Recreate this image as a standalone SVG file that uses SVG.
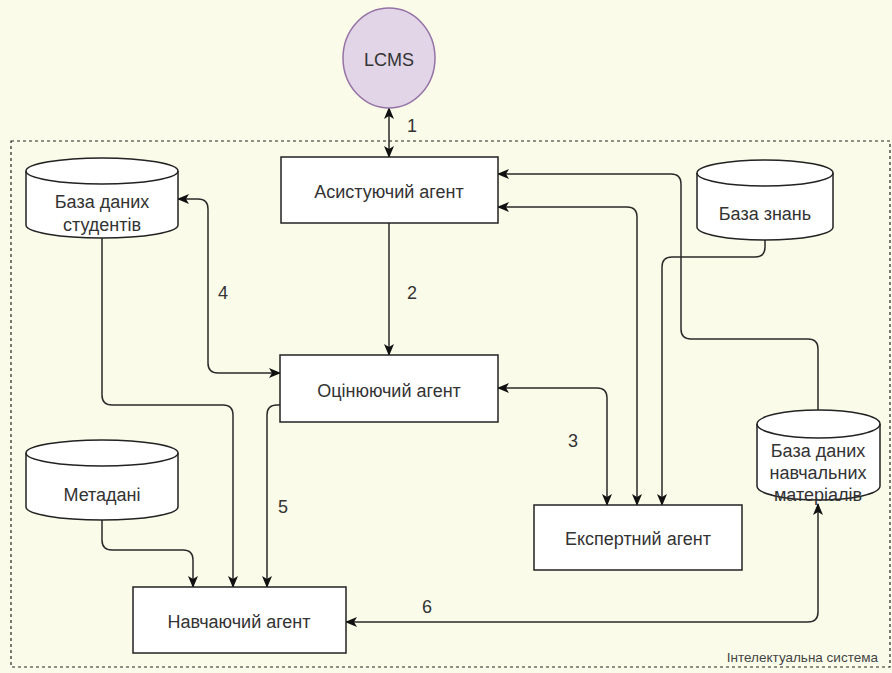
<svg xmlns="http://www.w3.org/2000/svg" width="892" height="673" viewBox="0 0 892 673">
  <style>
    .bg { fill: #fafce9; }
    .frame { fill: none; stroke: #222; stroke-width: 1.2; stroke-dasharray: 3 3; }
    .box { fill: #ffffff; stroke: #222; stroke-width: 1.5; }
    .db { fill: #ffffff; stroke: #222; stroke-width: 1.5; }
    .dbline { fill: none; stroke: #222; stroke-width: 1.5; }
    .lbl { font-family: "Liberation Sans", Arial, sans-serif; font-size: 18px; fill: #333; text-anchor: middle; }
    .num { font-family: "Liberation Sans", Arial, sans-serif; font-size: 18px; fill: #333; text-anchor: middle; }
    .small { font-family: "Liberation Sans", Arial, sans-serif; font-size: 13.5px; fill: #444; text-anchor: end; }
    .edge { fill: none; stroke: #2a2a2a; stroke-width: 1.5; }
  </style>
  <defs>
    <marker id="arrEnd" viewBox="0 0 12 10" refX="11" refY="5" markerWidth="12" markerHeight="10" markerUnits="userSpaceOnUse" orient="auto">
      <path d="M0,0 L12,5 L0,10 L3,5 Z" fill="#111"/>
    </marker>
    <marker id="arrStart" viewBox="0 0 12 10" refX="1" refY="5" markerWidth="12" markerHeight="10" markerUnits="userSpaceOnUse" orient="auto">
      <path d="M12,0 L0,5 L12,10 L9,5 Z" fill="#111"/>
    </marker>
  </defs>

  <rect class="bg" x="0" y="0" width="892" height="673"/>

  <!-- system boundary -->
  <g id="system">
    <rect class="frame" x="11" y="141" width="879" height="526"/>
    <text class="small" x="878" y="662">Інтелектуальна система</text>
  </g>

  <!-- connectors -->
  <g id="connectors">
    <path class="edge" d="M389,108 V157" marker-start="url(#arrStart)" marker-end="url(#arrEnd)"/>
    <path class="edge" d="M389,223 V355" marker-end="url(#arrEnd)"/>
    <path class="edge" d="M498,388 H597 Q607,388 607,398 V505" marker-start="url(#arrStart)" marker-end="url(#arrEnd)"/>
    <path class="edge" d="M178,199 H198 Q208,199 208,209 V363 Q208,373 218,373 H280" marker-start="url(#arrStart)" marker-end="url(#arrEnd)"/>
    <path class="edge" d="M102,238 V395 Q102,405 112,405 H223 Q233,405 233,415 V587" marker-end="url(#arrEnd)"/>
    <path class="edge" d="M280,405 H277 Q267,405 267,415 V587" marker-end="url(#arrEnd)"/>
    <path class="edge" d="M102,520 V540 Q102,550 112,550 H183 Q193,550 193,560 V587" marker-end="url(#arrEnd)"/>
    <path class="edge" d="M346,622 H808 Q818,622 818,612 V504" marker-start="url(#arrStart)" marker-end="url(#arrEnd)"/>
    <path class="edge" d="M818,410 V349 Q818,339 808,339 H691 Q681,339 681,329 V184 Q681,174 671,174 H498" marker-end="url(#arrEnd)"/>
    <path class="edge" d="M498,207 H627 Q637,207 637,217 V505" marker-start="url(#arrStart)" marker-end="url(#arrEnd)"/>
    <path class="edge" d="M765,240 V247 Q765,257 755,257 H672 Q662,257 662,267 V505" marker-end="url(#arrEnd)"/>

    <text class="num" x="412" y="132">1</text>
    <text class="num" x="412" y="299">2</text>
    <text class="num" x="573" y="447">3</text>
    <text class="num" x="223" y="299">4</text>
    <text class="num" x="283" y="513">5</text>
    <text class="num" x="427" y="613">6</text>
  </g>

  <!-- LMS -->
  <g id="lcms">
    <ellipse cx="389" cy="58" rx="46" ry="50" fill="#e1d5e7" stroke="#9673a6" stroke-width="1.5"/>
    <text class="lbl" x="389" y="66">LCMS</text>
  </g>

  <!-- agents -->
  <g id="assistant-agent">
    <rect class="box" x="281" y="157" width="217" height="66"/>
    <text class="lbl" x="389" y="198">Асистуючий агент</text>
  </g>
  <g id="assessment-agent">
    <rect class="box" x="280" y="355" width="218" height="67"/>
    <text class="lbl" x="389" y="397">Оцінюючий агент</text>
  </g>
  <g id="expert-agent">
    <rect class="box" x="534" y="505" width="208" height="65"/>
    <text class="lbl" x="638" y="545">Експертний агент</text>
  </g>
  <g id="teaching-agent">
    <rect class="box" x="133" y="587" width="213" height="66"/>
    <text class="lbl" x="239" y="628">Навчаючий агент</text>
  </g>

  <!-- data stores -->
  <g id="students-db">
    <path class="db" d="M26,171 A76,13 0 0 1 178,171 V225 A76,13 0 0 1 26,225 Z"/>
    <path class="dbline" d="M26,171 A76,13 0 0 0 178,171"/>
    <text class="lbl" x="102" y="208">База даних</text>
    <text class="lbl" x="102" y="231">студентів</text>
  </g>
  <g id="metadata-db">
    <path class="db" d="M26,453 A76,13 0 0 1 178,453 V507 A76,13 0 0 1 26,507 Z"/>
    <path class="dbline" d="M26,453 A76,13 0 0 0 178,453"/>
    <text class="lbl" x="102" y="501">Метадані</text>
  </g>
  <g id="knowledge-db">
    <path class="db" d="M697,173 A68,13 0 0 1 833,173 V227 A68,13 0 0 1 697,227 Z"/>
    <path class="dbline" d="M697,173 A68,13 0 0 0 833,173"/>
    <text class="lbl" x="765" y="220">База знань</text>
  </g>
  <g id="materials-db">
    <path class="db" d="M757,424 A61.5,14 0 0 1 880,424 V486 A61.5,14 0 0 1 757,486 Z"/>
    <path class="dbline" d="M757,424 A61.5,14 0 0 0 880,424"/>
    <text class="lbl" x="818" y="457">База даних</text>
    <text class="lbl" x="818" y="479">навчальних</text>
    <text class="lbl" x="818" y="501">матеріалів</text>
  </g>
</svg>
